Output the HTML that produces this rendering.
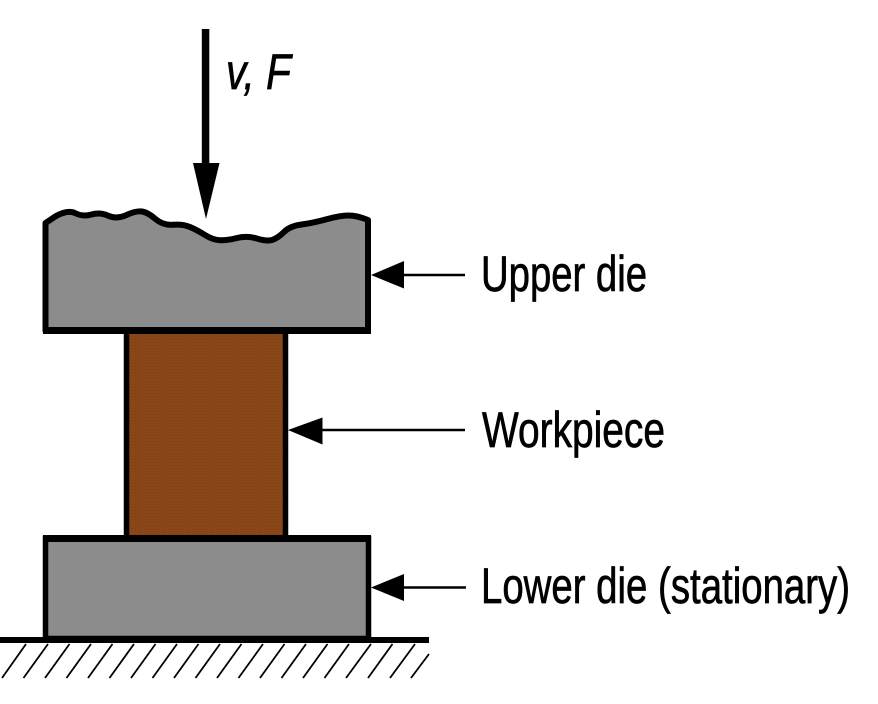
<!DOCTYPE html>
<html><head><meta charset="utf-8"><style>html,body{margin:0;padding:0;background:#fff}svg{display:block}text{font-family:"Liberation Sans",sans-serif;fill:#000;stroke:#000;stroke-width:.7}</style></head>
<body>
<svg width="878" height="704" viewBox="0 0 878 704" xmlns="http://www.w3.org/2000/svg">
<defs><pattern id="d" width="3" height="3" patternUnits="userSpaceOnUse"><rect width="3" height="3" fill="#8c4818"/><rect width="1" height="1" fill="#7a3c14"/><rect x="1.5" y="1.5" width="1" height="1" fill="#7a3c14"/></pattern></defs>
<rect width="878" height="704" fill="#fff"/>
<path d="M126.5 331 H285.5 V538 H126.5 Z" fill="url(#d)" stroke="#000" stroke-width="5.5"/>
<path d="M45.5 331 V223 L56 216 Q68 209.5 75.5 213.25 Q83 217 91.5 214.5 Q100 212 108.25 215.75 Q116.5 219.5 126.5 215 Q136.5 210.5 142 211.5 Q148 212.5 155.5 219 Q163 225.5 173 224.75 Q183 224 190 227 Q197 230 205 235 Q213 240 220 240.25 Q227 240.5 237 238 Q247 235.5 256.75 238.5 Q266.5 241.5 272 240 Q278 238 284 232 Q290 226 301.5 224.5 Q313 223 326.5 219.25 Q340 215.5 348.5 215.5 Q357 215.5 368 220 V330.5 Z" fill="#8c8c8c" stroke="#000" stroke-width="6" stroke-linejoin="round"/>
<rect x="43" y="327" width="328" height="7" fill="#000"/>
<rect x="45.5" y="538.5" width="323" height="100" fill="#8c8c8c" stroke="#000" stroke-width="5.5"/>
<rect x="43" y="535" width="328" height="7" fill="#000"/>
<rect x="0" y="637" width="429" height="6" fill="#000"/>
<g stroke="#000" stroke-width="1.8" fill="none">
<path d="M26 644 L2 678 M48 644 L23.5 678 M69.5 644 L45 678 M91 644 L66.5 678 M112.5 644 L88 678 M134 644 L109.5 678 M155.5 644 L131 678 M177 644 L152.5 678 M198.5 644 L174 678 M220 644 L195.5 678 M241.5 644 L217 678 M263 644 L238.5 678 M284.5 644 L260 678 M306 644 L281.5 678 M327.5 644 L303 678 M349 644 L324.5 678 M371 644 L346 678 M392.5 644 L368 678 M415 644 L390 678 M429 654 L411 678"/>
</g>
<rect x="201.8" y="29" width="7.5" height="136" fill="#000"/>
<polygon points="193,163 219.5,163 206,219" fill="#000"/>
<path d="M404 275 H465" stroke="#000" stroke-width="2.5"/>
<polygon points="371,275 404,261 404,288.5" fill="#000"/>
<path d="M322 430 H465" stroke="#000" stroke-width="2.5"/>
<polygon points="288,430 322.5,417.5 322.5,444.5" fill="#000"/>
<path d="M404 587.5 H466" stroke="#000" stroke-width="2.5"/>
<polygon points="371,587.5 404,574 404,601" fill="#000"/>
<text x="226" y="89" font-size="50" font-style="italic" textLength="65" lengthAdjust="spacingAndGlyphs">v, F</text>
<text x="481" y="291" font-size="50" textLength="166" lengthAdjust="spacingAndGlyphs">Upper die</text>
<text x="482" y="447" font-size="50" textLength="183" lengthAdjust="spacingAndGlyphs">Workpiece</text>
<text x="481" y="603" font-size="50" textLength="369" lengthAdjust="spacingAndGlyphs">Lower die (stationary)</text>
</svg>
</body></html>
